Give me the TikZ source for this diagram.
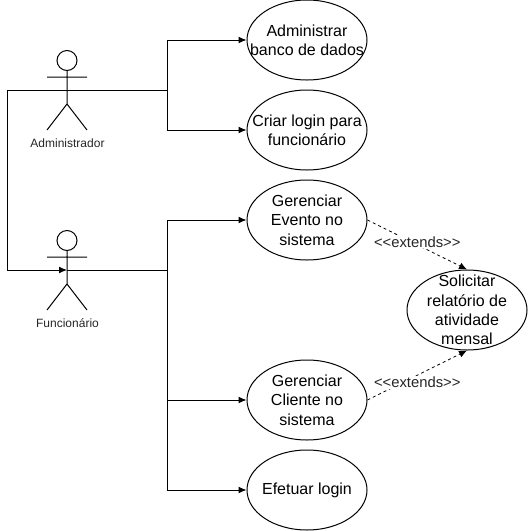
\documentclass[tikz,border=0pt]{standalone}
\usepackage{fontspec}
\setmainfont{Liberation Sans}
\usetikzlibrary{shapes.geometric, arrows.meta}
\tikzset{
	usecase/.style={ellipse, draw, line width=1pt, inner sep=-20pt, minimum width=120pt, minimum height=80pt, align=center, font=\fontsize{16}{19.4}\selectfont},
	actorname/.style={font=\fontsize{12}{14}\selectfont, text=black!85},
	extendlabel/.style={fill=white, inner sep=1pt, font=\fontsize{14.8}{17}\selectfont, text=black!85},
	link/.style={line width=1pt, -{Latex[length=8pt,width=7pt]}},
	extendlink/.style={line width=.8pt, dashed, -{Latex[length=8pt,width=7pt]}},
	pics/actor/.style={code={
		\draw[line width=1pt] (0,-29.5) circle (10);
		\draw[line width=1pt] (0,-19.5) -- (0,14) (-20,-13) -- (20,-13) (-20,40) -- (0,14) -- (20,40);
	}}
}
\begin{document}
\begin{tikzpicture}[x=1pt, y=-1pt]
	\useasboundingbox (0,0) rectangle (528,531);
	\node (administrador)[inner sep=0pt] at (67,90) {};
	\node (funcionario)[inner sep=0pt] at (67,270) {};
	\pic at (administrador) {actor};
	\pic at (funcionario) {actor};
	\node (nomeadm)[actorname] at (67.5,143.5) {Administrador};
	\node (nomefunc)[actorname] at (67.5,323.5) {Funcionário};
	\node (banco)[usecase] at (307,40) {Administrar\\banco de dados};
	\node (login)[usecase] at (307,130) {Criar login para\\funcionário};
	\node (evento)[usecase] at (307,220) {Gerenciar\\Evento no\\sistema};
	\node (cliente)[usecase] at (307,400) {Gerenciar\\Cliente no\\sistema};
	\node (efetuar)[usecase] at (307,490) {Efetuar login};
	\node (relatorio)[usecase] at (467,310) {Solicitar\\relatório de\\atividade\\mensal};
	\coordinate (ladoadm) at (167,90);
	\coordinate (ladofunc) at (167,270);
	\coordinate (esquerda) at (7,90);
	\draw[link] (administrador.center) -- (ladoadm) |- (banco);
	\draw[link] (ladoadm) |- (login);
	\draw[link] (administrador.center) -- (esquerda) |- (funcionario.center);
	\draw[link] (funcionario.center) -- (ladofunc) |- (evento);
	\draw[link] (ladofunc) |- (cliente);
	\draw[link] (ladofunc) |- (efetuar);
	\draw[extendlink] (evento.east) -- node (ext1)[extendlabel, yshift=3pt] {<{}<extends>{}>} (relatorio.north);
	\draw[extendlink] (cliente.east) -- node (ext2)[extendlabel, yshift=-7pt] {<{}<extends>{}>} (relatorio.south);
\end{tikzpicture}
\end{document}
